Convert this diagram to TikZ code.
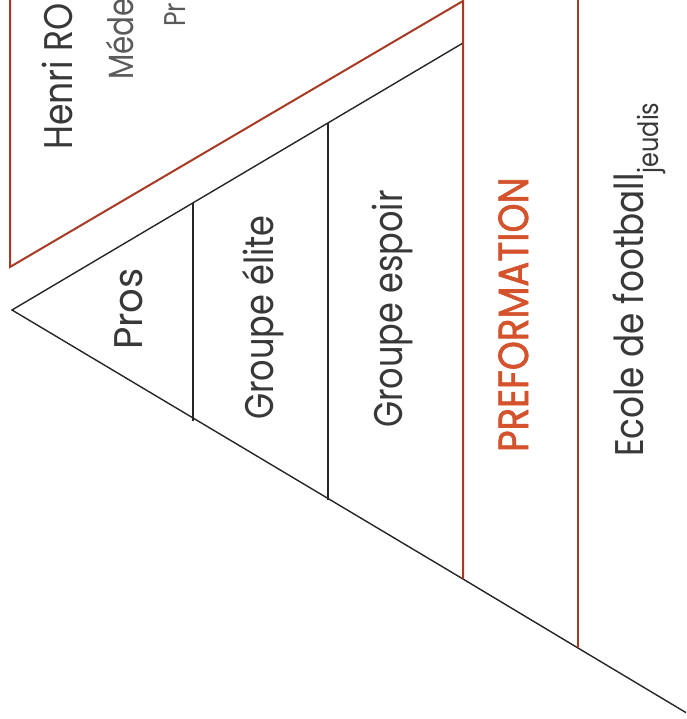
\documentclass[tikz,border=0pt]{standalone}
\usepackage{fontspec}
\setmainfont{Poppins}
\newfontfamily\prefont{Poppins}[FakeBold=1.6]
\definecolor{redline}{HTML}{A83A24}
\definecolor{preform}{HTML}{D4522C}
\definecolor{txt}{HTML}{383838}
\definecolor{txtlight}{HTML}{5A5A5A}
\tikzset{
  redl/.style={draw=redline, line width=2pt},
  blackl/.style={draw=black!85, line width=1.4pt},
  lab/.style={rotate=90, xscale=0.84, anchor=base west, inner sep=0pt, text=txt, font=\fontsize{40}{40}\selectfont},
}
\begin{document}
\begin{tikzpicture}[x=1pt,y=-1pt]
\useasboundingbox (0,0) rectangle (686,719);
\clip (0,0) rectangle (686,719);
\fill[white] (0,0) rectangle (686,719);
% coordinates
\coordinate (apex) at (12,310);
\coordinate (tr) at (463,43);
\coordinate (br) at (463,579);
\coordinate (b2) at (578,648);
\coordinate (end) at (690,715);
\coordinate (d1t) at (193,203);
\coordinate (d1b) at (193,421);
\coordinate (d2t) at (328,123);
\coordinate (d2b) at (328,500);
\coordinate (rtop) at (463,1);
\coordinate (rl) at (10,267);
\coordinate (rltop) at (10,-5);
\coordinate (r2top) at (578,-5);
% black triangle
\draw[blackl] (tr) -- (apex) -- (br) -- (b2) -- (end);
\draw[blackl] (d1t) -- (d1b);
\draw[blackl] (d2t) -- (d2b);
% red lines
\draw[redl, line join=miter] (rltop) -- (rl) -- (rtop) -- (br);
\draw[redl] (r2top) -- (b2);
% texts
\node[lab, xscale=1.03] (henri) at (72,150) {Henri RO};
\node[lab, text=txtlight, font=\fontsize{35}{35}\selectfont] (mede) at (133,80) {Méde};
\node[lab, text=txtlight, font=\fontsize{30}{30}\selectfont] (pr) at (185,27) {Pr};
\node[lab, xscale=1.15] (pros) at (142,350) {Pros};
\node[lab] (elite) at (273,420) {Groupe élite};
\node[lab] (espoir) at (402,428) {Groupe espoir};
\node[lab, xscale=1.05, text=preform, font=\fontsize{42}{42}\prefont] (pref) at (528,452) {PREFORMATION};
\node[lab, xscale=1.02] (ecole) at (643,457) {Ecole de football\raisebox{-15pt}{\fontsize{28}{28}\selectfont jeudis}};
\end{tikzpicture}
\end{document}
